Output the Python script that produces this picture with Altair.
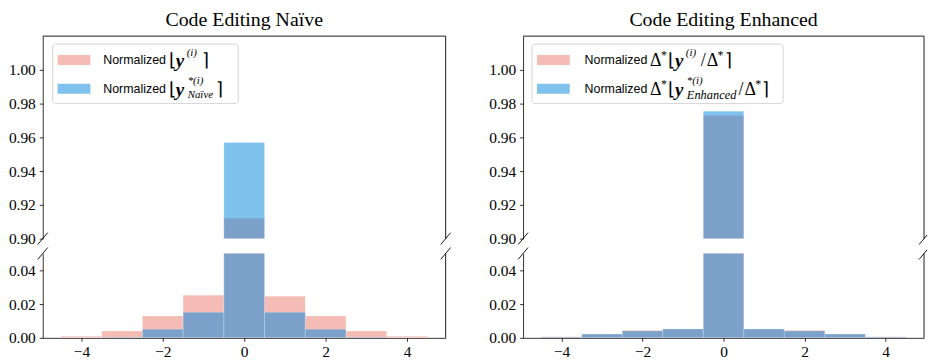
import altair as alt
import pandas as pd

# ---------------- data ----------------
bins = [-4, -3, -2, -1, 0, 1, 2, 3, 4]
naive_orig = [0.0010, 0.0041, 0.0130, 0.0253, 0.912, 0.0247, 0.0130, 0.0041, 0.0010]
naive_new = [0.0000, 0.0004, 0.0051, 0.0151, 0.957, 0.0151, 0.0051, 0.0004, 0.0000]
enh_orig = [0.0006, 0.0022, 0.0045, 0.0053, 0.973, 0.0053, 0.0045, 0.0022, 0.0006]
enh_new = [0.0005, 0.0022, 0.0041, 0.0053, 0.9755, 0.0053, 0.0041, 0.0022, 0.0005]

titles = ["Code Editing Naïve", "Code Editing Enhanced"]
top_ticks = [0.90, 0.92, 0.94, 0.96, 0.98, 1.00]
bottom_ticks = [0.00, 0.02, 0.04]
x_ticks = [-4, -2, 0, 2, 4]

# ---------------- style ----------------
PINK = "#EB796D"
BLUE = "#0185DD"
ALPHA = 0.5
SERIF = "Liberation Serif"
SANS = "Liberation Sans"
TOP_H = 204
BOT_H = 85
WIDTHS = [406, 404]
EXT = 34

one = pd.DataFrame({"k": [0]})


def txt(s, x, y, size=18, font=SERIF, style="normal", weight="normal"):
    return alt.Chart(one).mark_text(
        text=s, font=font, fontSize=size, fontStyle=style, fontWeight=weight,
        align="left", baseline="middle", color="black"
    ).encode(x=alt.value(x), y=alt.value(y))


def seg(x, y, x2, y2, w=0.9):
    return alt.Chart(one).mark_rule(color="black", strokeWidth=w).encode(
        x=alt.value(x), y=alt.value(y), x2=alt.value(x2), y2=alt.value(y2))


def box(x, y, x2, y2, fill, opacity=1.0, stroke=None, radius=0):
    kw = dict(fill=fill, fillOpacity=opacity, cornerRadius=radius)
    if stroke:
        kw.update(stroke=stroke, strokeWidth=1)
    return alt.Chart(one).mark_rect(**kw).encode(
        x=alt.value(x), x2=alt.value(x2), y=alt.value(y), y2=alt.value(y2))


def yaxis(vals):
    return alt.Axis(values=vals, format=".2f", title=None, grid=False,
                    labelFont=SERIF, labelFontSize=15.5, labelColor="black",
                    tickSize=3.5, tickWidth=0.8, tickColor="black",
                    domainColor="black", domainWidth=0.8, labelPadding=4,
                    minExtent=EXT, maxExtent=EXT)


xaxis_bottom = alt.Axis(values=x_ticks, format="d", title=None, grid=False,
                        labelFont=SERIF, labelFontSize=15.5, labelColor="black",
                        tickSize=3.5, tickWidth=0.8, tickColor="black",
                        domainColor="black", domainWidth=0.8, labelPadding=3)


def bar_layers(df, ydom, yvals, xaxis):
    xs = alt.Scale(domain=[-4.95, 4.95], nice=False, zero=False)
    ys = alt.Scale(domain=ydom, nice=False, zero=False)
    out = []
    for col, color in (("orig", PINK), ("new", BLUE)):
        out.append(
            alt.Chart(df).mark_rect(
                fill=color, fillOpacity=ALPHA, stroke="white",
                strokeWidth=0.6, strokeOpacity=0.35, clip=True
            ).encode(
                x=alt.X("x0:Q", scale=xs, axis=xaxis),
                x2="x1:Q",
                y=alt.Y(f"{col}:Q", scale=ys, axis=yaxis(yvals)),
                y2=alt.datum(0),
            )
        )
    return out


def panel(i, orig, new, legend_w, pieces, slash_r):
    W = WIDTHS[i]
    df = pd.DataFrame({
        "x0": [b - 0.5 for b in bins],
        "x1": [b + 0.5 for b in bins],
        "orig": orig,
        "new": new,
    })
    top_layers = bar_layers(df, [0.90, 1.02], top_ticks, None)
    top_layers += [
        seg(0, 0, W, 0),          # top spine
        seg(W, 0, W, TOP_H),      # right spine
        seg(-5, TOP_H + 6, 5, TOP_H - 6),
        seg(W - 5, TOP_H + 6, W + slash_r, TOP_H - 6 * slash_r / 5),
        box(legend_w[0], 8, legend_w[1], 68, "white", 0.85, "#d4d4d4", 3),
        box(legend_w[0] + 5, 19, legend_w[0] + 38, 29, PINK, ALPHA),
        box(legend_w[0] + 5, 48, legend_w[0] + 38, 58, BLUE, ALPHA),
    ]
    for p in pieces:
        top_layers.append(txt(*p))
    top = alt.layer(*top_layers).properties(
        width=W, height=TOP_H,
        title=alt.Title(titles[i], font=SERIF, fontSize=20, fontWeight="normal",
                        color="black", anchor="middle", frame="group", offset=6),
    )
    bot_layers = bar_layers(df, [0.0, 0.05], bottom_ticks, xaxis_bottom)
    bot_layers += [
        seg(W, 0, W, BOT_H),
        seg(-5, 6, 5, -6),
        seg(W - 5, 6, W + slash_r, -6 * slash_r / 5),
    ]
    bot = alt.layer(*bot_layers).properties(width=W, height=BOT_H)
    return top, bot


NS = 12.5
SUP = 11
L1, L2 = 24, 53
left_pieces = [
    ("Normalized", 61, L1, NS, SANS),
    ("⌊", 127, L1 + 1),
    ("y", 134, L1 + 1, 19, SERIF, "italic", "bold"),
    ("(i)", 145, L1 - 7, SUP, SERIF, "italic"),
    ("⌉", 160, L1 + 1),
    ("Normalized", 61, L2, NS, SANS),
    ("⌊", 127, L2 + 1),
    ("y", 134, L2 + 1, 19, SERIF, "italic", "bold"),
    ("*(i)", 146, L2 - 8, SUP, SERIF, "italic"),
    ("Naïve", 146, L2 + 6, 11, SERIF, "italic"),
    ("⌉", 175, L2 + 1),
]

right_pieces = [
    ("Normalized", 62, L1, NS, SANS),
    ("Δ", 128, L1 + 1),
    ("*", 139, L1 - 5, 12),
    ("⌊", 146, L1 + 1),
    ("y", 153, L1 + 1, 19, SERIF, "italic", "bold"),
    ("(i)", 164, L1 - 7, SUP, SERIF, "italic"),
    ("/", 179, L1 + 1),
    ("Δ", 185, L1 + 1),
    ("*", 196, L1 - 5, 12),
    ("⌉", 203, L1 + 1),
    ("Normalized", 62, L2, NS, SANS),
    ("Δ", 128, L2 + 1),
    ("*", 139, L2 - 5, 12),
    ("⌊", 146, L2 + 1),
    ("y", 153, L2 + 1, 19, SERIF, "italic", "bold"),
    ("*(i)", 165, L2 - 8, SUP, SERIF, "italic"),
    ("Enhanced", 165, L2 + 6, 12.5, SERIF, "italic"),
    ("/", 217, L2 + 1),
    ("Δ", 223, L2 + 1),
    ("*", 234, L2 - 5, 12),
    ("⌉", 241, L2 + 1),
]

tl, bl = panel(0, naive_orig, naive_new, (10, 197), left_pieces, 5)
tr, br = panel(1, enh_orig, enh_new, (9, 262), right_pieces, 3)

chart = alt.concat(
    tl, tr, bl, br, columns=2,
    spacing={"row": 15, "column": 78}, bounds="flush"
).properties(
    padding={"left": 0, "top": 0, "right": 0, "bottom": 0}
).configure_view(stroke=None)

chart.save("out.html", embed_options={"renderer": "svg", "actions": False})
